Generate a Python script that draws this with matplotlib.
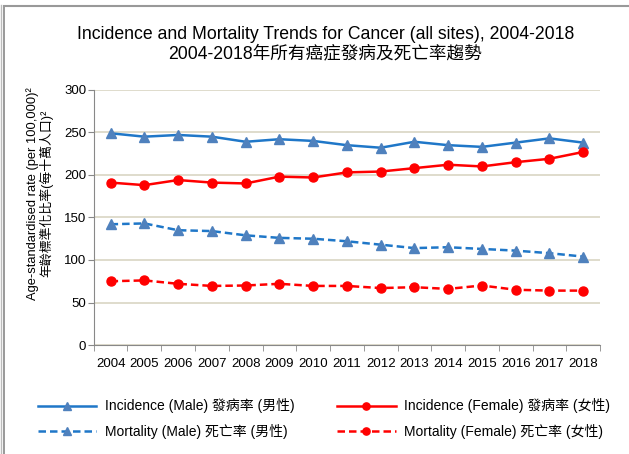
import matplotlib
matplotlib.use("Agg")
import matplotlib.pyplot as plt
from matplotlib.lines import Line2D

plt.rcParams['font.family'] = ['Liberation Sans', 'Noto Sans CJK TC', 'DejaVu Sans']

years = [str(y) for y in range(2004, 2019)]
inc_male = [249, 245, 247, 245, 239, 242, 240, 235, 232, 239, 235, 233, 238, 243, 238]
inc_female = [191, 188, 194, 191, 190, 198, 197, 203, 204, 208, 212, 210, 215, 219, 227]
mort_male = [142, 143, 135, 134, 129, 126, 125, 122, 118, 114, 115, 113, 111, 108, 104]
mort_female = [75, 76, 72, 69.5, 70, 72, 69.5, 69.5, 67, 68, 66, 70, 65, 64, 64]

blue = '#1f77c8'
blue_mk = '#4f81bd'
red = '#ff0000'

fig = plt.figure(figsize=(6.29, 4.54), dpi=100)
ax = fig.add_axes([0.149, 0.24, 0.805, 0.562])

x = list(range(len(years)))
ax.plot(x, inc_male, color=blue, lw=1.8, marker='^', ms=6.5, mfc=blue_mk, mec=blue_mk,
        label='Incidence (Male) 發病率 (男性)')
ax.plot(x, inc_female, color=red, lw=1.8, marker='o', ms=6.5, mfc=red, mec=red,
        label='Incidence (Female) 發病率 (女性)')
ax.plot(x, mort_male, color=blue, lw=1.8, ls=(0, (3, 1.6)), marker='^', ms=6.5, mfc=blue_mk, mec=blue_mk,
        label='Mortality (Male) 死亡率 (男性)')
ax.plot(x, mort_female, color=red, lw=1.8, ls=(0, (3, 1.6)), marker='o', ms=6.5, mfc=red, mec=red,
        label='Mortality (Female) 死亡率 (女性)')

ax.set_xlim(-0.5, len(years) - 0.5)
ax.set_ylim(0, 300)
ax.set_yticks(range(0, 301, 50))
ax.set_xticks(x)
ax.set_xticklabels(years, fontsize=9.5)
ax.set_xticks([i - 0.5 for i in range(len(years) + 1)], minor=True)
ax.tick_params(axis='x', which='major', length=0, pad=9)
ax.tick_params(axis='x', which='minor', length=4, color='#888888', direction='out')
ax.tick_params(axis='y', length=4, color='#888888', labelsize=9.5, pad=1.5)
ax.yaxis.grid(True, color='#d9d5c3', lw=1.2)
ax.set_axisbelow(True)
for s in ['top', 'right']:
    ax.spines[s].set_visible(False)
for s in ['left', 'bottom']:
    ax.spines[s].set_color('#888888')

ax.set_ylabel('Age-standardised rate (per 100,000)²\n年齡標準化比率(每十萬人口)²',
              fontsize=9.3, linespacing=1.0)
ax.yaxis.set_label_coords(-0.08, 0.595)

fig.text(0.517, 0.925, 'Incidence and Mortality Trends for Cancer (all sites), 2004-2018',
         ha='center', va='center', fontsize=12.7)
fig.text(0.517, 0.882, '2004-2018年所有癌症發病及死亡率趨勢',
         ha='center', va='center', fontsize=12.7)

h, l = ax.get_legend_handles_labels()
fig.legend([h[0], h[2], h[1], h[3]], [l[0], l[2], l[1], l[3]], ncol=2,
           loc='center', bbox_to_anchor=(0.515, 0.078), frameon=False, fontsize=10,
           handlelength=4.2, columnspacing=3.1, labelspacing=0.75, handletextpad=0.6,
           markerscale=0.8)

# outer frame lines
fig.add_artist(Line2D([0.002, 0.002], [0, 0.99], transform=fig.transFigure, color='#bbbbbb', lw=1))
fig.add_artist(Line2D([0.007, 0.007], [0, 0.987], transform=fig.transFigure, color='#888888', lw=1.2))
fig.add_artist(Line2D([0.007, 1], [0.987, 0.987], transform=fig.transFigure, color='#999999', lw=1.5))

fig.savefig('out.png', dpi=100)
